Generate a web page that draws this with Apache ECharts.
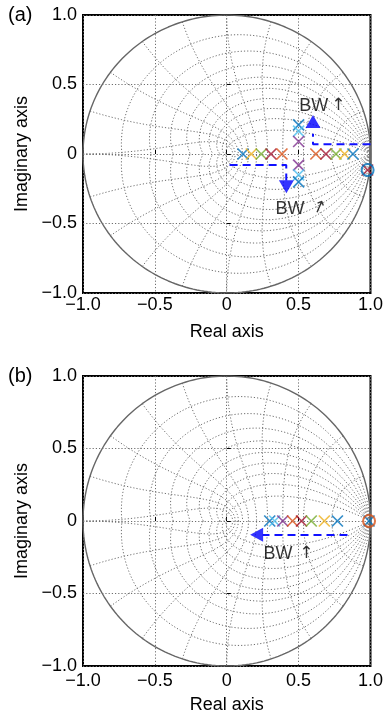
<!DOCTYPE html>
<html>
<head>
<meta charset="utf-8">
<script src="https://cdn.jsdelivr.net/npm/echarts@6.0.0/dist/echarts.min.js"></script>
<style>
  html, body { margin: 0; padding: 0; background: #fff; }
  #chart { width: 386px; height: 718px; }
</style>
</head>
<body>
<div id="chart"></div>
<script>
// z-plane grid levels (zgrid): damping ratios and natural frequencies (x pi/T)
const zetaLevels = [0.1, 0.2, 0.3, 0.4, 0.5, 0.6, 0.7, 0.8, 0.9];
const wnLevels = [0.1, 0.2, 0.3, 0.4, 0.5, 0.6, 0.7, 0.8, 0.9, 1.0];
const tickLabels = ["\u22121.0", "\u22120.5", "0", "0.5", "1.0"];

// MATLAB default colours
const clr = {
  blue: "#0072BD", orange: "#D95319", yellow: "#EDB120", purple: "#7E2F8E",
  green: "#77AC30", cyan: "#4DBEEE", red: "#A2142F"
};

// panel (a) poles
const polesA_re = [0.113, 0.171, 0.24, 0.308, 0.384, 0.62, 0.69, 0.76, 0.82, 0.878, 0.5, 0.5, 0.5, 0.5, 0.5, 0.5];
const polesA_im = [0, 0, 0, 0, 0, 0, 0, 0, 0, 0, 0.21, 0.165, 0.09, -0.08, -0.15, -0.2];
const polesA_col = ["blue", "yellow", "green", "red", "orange", "orange", "red", "green", "yellow", "blue", "blue", "cyan", "purple", "purple", "cyan", "blue"];
const zeroA = [0.98, -0.115]; // blue o with red x

// panel (b) poles
const polesB_re = [0.299, 0.333, 0.39, 0.458, 0.52, 0.588, 0.679, 0.77];
const polesB_im = [0, 0, 0, 0, 0, 0, 0, 0];
const polesB_col = ["blue", "cyan", "purple", "orange", "red", "green", "yellow", "blue"];
const zeroB = [0.99, 0]; // orange o with blue x

// BW arrows
const bwPathA1 = [[1.0, 0.07], [0.6, 0.07], [0.6, 0.145]];
const bwPathA2 = [[0.02, -0.08], [0.414, -0.08], [0.414, -0.19]];
const bwPathB = [[0.84, -0.097], [0.25, -0.097]];
const bwHeadA = [[0.6, 0.234, 0], [0.415, -0.235, 180]];
const bwHeadB = [[0.208, -0.095, 90]];
const bwTextA = [[0.606, 0.347], [0.44, -0.396]];
const bwArrA = [[0.776, 0.347, 0], [0.64, -0.39, -23]];
const bwTextB = [[0.357, -0.228]];
const bwArrB = [[0.554, -0.228, 0]];

const FONT = "Liberation Sans, Arial, sans-serif";
const crossPath = "path://M0,0L10,10M10,0L0,10";
const gridLine = { color: "#6e6e6e", width: 1, type: [1.2, 2] };

function zgridCurves() {
  let curves = [];
  const n = 120;
  zetaLevels.forEach(function (z) {
    const m = z / Math.sqrt(1 - z * z);
    let up = [], dn = [];
    for (let i = 0; i <= n; i++) {
      const th = Math.PI * i / n, r = Math.exp(-m * th);
      up.push([r * Math.cos(th), r * Math.sin(th)]);
      dn.push([r * Math.cos(th), -r * Math.sin(th)]);
    }
    curves.push(up, dn);
  });
  wnLevels.forEach(function (w) {
    let up = [], dn = [];
    for (let i = 0; i <= n; i++) {
      const z = i / n, r = Math.exp(-w * Math.PI * z), th = w * Math.PI * Math.sqrt(1 - z * z);
      up.push([r * Math.cos(th), r * Math.sin(th)]);
      dn.push([r * Math.cos(th), -r * Math.sin(th)]);
    }
    curves.push(up, dn);
  });
  return curves;
}

function unitCircle() {
  let pts = [];
  for (let i = 0; i <= 240; i++) {
    const th = 2 * Math.PI * i / 240;
    pts.push([Math.cos(th), Math.sin(th)]);
  }
  return pts;
}

function lineSeries(k, data, style) {
  return {
    type: "line", xAxisIndex: k, yAxisIndex: k, data: data,
    showSymbol: false, symbol: "none", silent: true, animation: false,
    lineStyle: style
  };
}

function poleSeries(k, re, im, cols) {
  return {
    type: "scatter", xAxisIndex: k, yAxisIndex: k, silent: true, animation: false,
    symbol: crossPath, symbolSize: 11,
    data: re.map(function (x, i) {
      return {
        value: [x, im[i]],
        itemStyle: { color: "none", borderColor: clr[cols[i]], borderWidth: 1.7 }
      };
    }),
    z: 5
  };
}

function panel(k, polesRe, polesIm, polesCol, zero, zeroCol, zeroCrossCol, paths, heads, texts, arrows) {
  let s = [];
  zgridCurves().forEach(function (c) {
    s.push(lineSeries(k, c, gridLine));
  });
  s.push(lineSeries(k, unitCircle(), { color: "#666", width: 1.4 }));
  s.push(poleSeries(k, polesRe, polesIm, polesCol));
  // zero circle and pole at z ~ 1
  s.push({
    type: "scatter", xAxisIndex: k, yAxisIndex: k, silent: true, animation: false, z: 6,
    symbol: "circle", symbolSize: 12,
    itemStyle: { color: "none", borderColor: clr[zeroCol], borderWidth: 2 },
    data: [zero]
  });
  s.push(poleSeries(k, [zero[0]], [zero[1]], [zeroCrossCol]));
  paths.forEach(function (p) {
    s.push(lineSeries(k, p, { color: "#1010ff", width: 2, type: [8, 5] }));
  });
  s.push({
    type: "scatter", xAxisIndex: k, yAxisIndex: k, silent: true, animation: false, z: 7,
    symbol: "triangle",
    data: heads.map(function (h) {
      return { value: [h[0], h[1]], symbolRotate: h[2], symbolSize: h[2] === 90 ? [14, 13] : [15, 13] };
    }),
    itemStyle: { color: "#0000ff" }
  });
  s.push({
    type: "scatter", xAxisIndex: k, yAxisIndex: k, silent: true, animation: false, z: 8,
    symbolSize: 0,
    data: texts,
    label: { show: true, position: "inside", formatter: "BW", color: "#000", fontSize: 18, fontFamily: FONT }
  });
  s.push({
    type: "scatter", xAxisIndex: k, yAxisIndex: k, silent: true, animation: false, z: 8,
    symbolSize: 0,
    data: arrows.map(function (a) {
      return { value: [a[0], a[1]], label: { rotate: a[2] } };
    }),
    label: { show: true, position: "inside", formatter: "\u2191", color: "#000", fontSize: 17, fontFamily: "DejaVu Sans" }
  });
  return s;
}

function fmt(v) {
  return tickLabels[Math.round((v + 1) / 0.5)];
}

function xAx(k, gap, margin) {
  return {
    type: "value", gridIndex: k, min: -1, max: 1, interval: 0.5,
    name: "Real axis", nameLocation: "middle", nameGap: gap,
    nameTextStyle: { fontSize: 18, fontFamily: FONT, color: "#000" },
    axisLine: { show: false },
    axisTick: { show: true, inside: true, length: 4, lineStyle: { color: "#000" } },
    axisLabel: { formatter: fmt, fontSize: 18, fontFamily: FONT, color: "#000", margin: margin, showMinLabel: true, showMaxLabel: true },
    splitLine: { show: true, lineStyle: gridLine }
  };
}

function yAx(k) {
  return {
    type: "value", gridIndex: k, min: -1, max: 1, interval: 0.5,
    name: "Imaginary axis", nameLocation: "middle", nameGap: 44,
    nameTextStyle: { fontSize: 18, fontFamily: FONT, color: "#000" },
    axisLine: { show: false },
    axisTick: { show: true, inside: true, length: 4, lineStyle: { color: "#000" } },
    axisLabel: { formatter: fmt, fontSize: 18, fontFamily: FONT, color: "#000", margin: 6, showMinLabel: true, showMaxLabel: true },
    splitLine: { show: true, lineStyle: gridLine }
  };
}

const myChart = echarts.init(document.getElementById("chart"), null, { renderer: "canvas" });
const series = [].concat(
  panel(0, polesA_re, polesA_im, polesA_col, zeroA, "blue", "red", [bwPathA1, bwPathA2], bwHeadA, bwTextA, bwArrA),
  panel(1, polesB_re, polesB_im, polesB_col, zeroB, "orange", "blue", [bwPathB], bwHeadB, bwTextB, bwArrB)
);

const option = {
  backgroundColor: "#fff",
  animation: false,
  grid: [
    { left: 83, top: 15, width: 289, height: 278, show: true, borderColor: "#000", borderWidth: 2, backgroundColor: "#fff" },
    { left: 83, top: 376, width: 293, height: 290, show: true, borderColor: "#000", borderWidth: 2, backgroundColor: "#fff" }
  ],
  xAxis: [xAx(0, 30, 3), xAx(1, 30, 6)],
  yAxis: [yAx(0), yAx(1)],
  graphic: [
    { type: "text", left: 8, top: 5, style: { text: "(a)", font: "20px " + FONT, fill: "#000" } },
    { type: "text", left: 8, top: 366, style: { text: "(b)", font: "20px " + FONT, fill: "#000" } }
  ],
  series: series
};
myChart.setOption(option);
</script>
</body>
</html>
